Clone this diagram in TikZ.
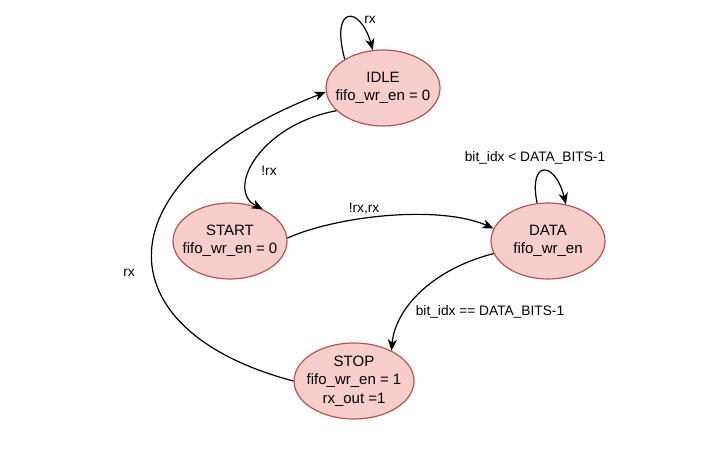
\documentclass[tikz,border=0pt]{standalone}
\usepackage{fontspec}
\setmainfont{Liberation Sans}
\usetikzlibrary{shapes.geometric,arrows.meta}
\definecolor{stfill}{HTML}{F8CECC}
\definecolor{stdraw}{HTML}{B85450}
\begin{document}
\begin{tikzpicture}[x=0.75pt,y=-0.75pt,
  state/.style={ellipse, draw=stdraw, fill=stfill, line width=0.9pt,
    minimum width=85.5pt, minimum height=57pt, inner xsep=-8pt, inner ysep=-8pt, align=center,
    font=\fontsize{11.25}{13.8}\selectfont},
  trans/.style={draw=black, line width=0.9pt,
    -{Stealth[length=8.5pt,width=7pt,inset=2.5pt]}},
  lbl/.style={font=\fontsize{10.3}{12}\selectfont, inner sep=0pt}]
\useasboundingbox (0,0) rectangle (709,452);
\node[state] (idle) at (383,88) {IDLE\\fifo\_wr\_en = 0};
\node[state] (start) at (230,241) {START\\fifo\_wr\_en = 0};
\node[state] (data) at (548,241) {DATA\\fifo\_wr\_en};
\node[state, minimum width=90pt] (stop) at (354,381) {STOP\\fifo\_wr\_en = 1\\rx\_out =1};

\draw[trans] (idle.143) .. controls (330,5) and (360,5) .. (idle.105);
\draw[trans] (idle.206) .. controls (260,125) and (225,190) .. (start.44);
\draw[trans] (start.3) .. controls (340,215) and (440,205) .. (data.167);
\draw[trans] (data.106) .. controls (528,160) and (555,160) .. (data.64);
\draw[trans] (data.193) .. controls (430,270) and (395,310) .. (stop.39);
\draw[trans] (stop.180) .. controls (100,330) and (100,180) .. (idle.184);

\node[lbl] (l1) at (370,20) {rx};
\node[lbl] (l2) at (269,171) {!rx};
\node[lbl] (l3) at (364,209) {!rx,rx};
\node[lbl] (l4) at (535,158) {bit\_idx < DATA\_BITS-1};
\node[lbl] (l5) at (490,312) {bit\_idx == DATA\_BITS-1};
\node[lbl] (l6) at (129,273) {rx};
\end{tikzpicture}
\end{document}
